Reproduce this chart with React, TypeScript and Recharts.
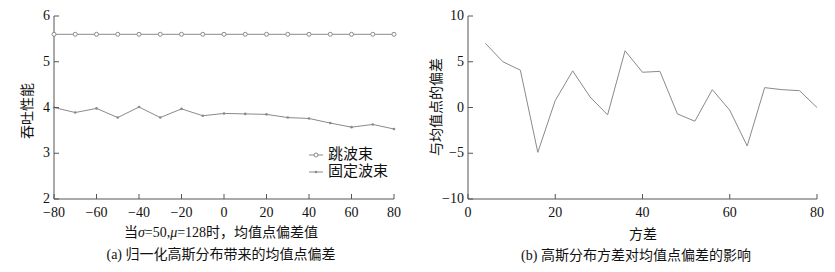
import React from 'react';
import { LineChart, Line, XAxis, YAxis } from 'recharts';

const offsetsA = [-80, -70, -60, -50, -40, -30, -20, -10, 0, 10, 20, 30, 40, 50, 60, 70, 80];
const hopBeam = [5.6, 5.6, 5.6, 5.6, 5.6, 5.6, 5.6, 5.6, 5.6, 5.6, 5.6, 5.6, 5.6, 5.6, 5.6, 5.6, 5.6];
const fixedBeam = [4.0, 3.89, 3.98, 3.78, 4.01, 3.78, 3.97, 3.82, 3.87, 3.86, 3.85, 3.78, 3.76, 3.66, 3.57, 3.63, 3.53];
const ticksAX = [-80, -60, -40, -20, 0, 20, 40, 60, 80];
const ticksAY = [2, 3, 4, 5, 6];
const seriesNames = ['跳波束', '固定波束'];

const variances = [4, 8, 12, 16, 20, 24, 28, 32, 36, 40, 44, 48, 52, 56, 60, 64, 68, 72, 76, 80];
const deviation = [7.0, 5.0, 4.08, -4.9, 0.77, 4.0, 1.14, -0.8, 6.2, 3.85, 3.95, -0.7, -1.5, 1.95, -0.3, -4.2, 2.17, 1.95, 1.84, 0];
const ticksBX = [0, 20, 40, 60, 80];
const ticksBY = [-10, -5, 0, 5, 10];

const dataA = offsetsA.map((x, i) => ({ x, hop: hopBeam[i], fixed: fixedBeam[i] }));
const dataB = variances.map((x, i) => ({ x, dev: deviation[i] }));

const FONT = "'Liberation Serif', 'Noto Sans CJK SC', serif";
const AXIS = '#555';
const LINE = '#8a8a8a';

const BottomTick = (props: any) => {
  const { x, y, payload } = props;
  return (
    <g>
      <line x1={x} x2={x} y1={y} y2={y - 5} stroke={AXIS} />
      <text x={x} y={y + 18} textAnchor="middle" fontSize={14} fontFamily={FONT} fill="#111">
        {String(payload.value).replace('-', '\u2212')}
      </text>
    </g>
  );
};
const TopTick = (props: any) => {
  const { x, y } = props;
  return <line x1={x} x2={x} y1={y} y2={y + 5} stroke={AXIS} />;
};
const LeftTick = (props: any) => {
  const { x, y, payload } = props;
  return (
    <g>
      <line x1={x} x2={x + 5} y1={y} y2={y} stroke={AXIS} />
      <text x={x - 4} y={y + 4} textAnchor="end" fontSize={14} fontFamily={FONT} fill="#111">
        {String(payload.value).replace('-', '\u2212')}
      </text>
    </g>
  );
};
const RightTick = (props: any) => {
  const { x, y } = props;
  return <line x1={x} x2={x - 5} y1={y} y2={y} stroke={AXIS} />;
};

const HopDot = (props: any) => {
  const { cx, cy } = props;
  return <circle cx={cx} cy={cy} r={2} fill="#fff" stroke={LINE} strokeWidth={1} />;
};
const FixedDot = (props: any) => {
  const { cx, cy } = props;
  return <circle cx={cx} cy={cy} r={1.3} fill={LINE} stroke="none" />;
};

const textStyle: React.CSSProperties = {
  position: 'absolute',
  fontFamily: FONT,
  color: '#111',
  whiteSpace: 'nowrap',
};

export default function App() {
  return (
    <div style={{ position: 'absolute', left: 0, top: 0, width: 835, height: 272, background: '#fff', overflow: 'hidden' }}>
      <div style={{ position: 'absolute', left: 0, top: 0 }}>
        <LineChart width={420} height={272} data={dataA} margin={{ top: 16, right: 26, bottom: 43, left: 24 }}>
          <XAxis dataKey="x" type="number" domain={[-80, 80]} ticks={ticksAX} tickSize={0} tickMargin={0}
            axisLine={{ stroke: AXIS }} tickLine={false} tick={<BottomTick />} height={30} interval={0} />
          <XAxis xAxisId="top" orientation="top" dataKey="x" type="number" domain={[-80, 80]} ticks={ticksAX}
            tickSize={0} tickMargin={0} axisLine={{ stroke: AXIS }} tickLine={false} tick={<TopTick />} height={0} interval={0} />
          <YAxis type="number" domain={[2, 6]} ticks={ticksAY} tickSize={0} tickMargin={0}
            axisLine={{ stroke: AXIS }} tickLine={false} tick={<LeftTick />} width={30} interval={0} />
          <YAxis yAxisId="right" orientation="right" type="number" domain={[2, 6]} ticks={ticksAY} tickSize={0} tickMargin={0}
            axisLine={{ stroke: AXIS }} tickLine={false} tick={<RightTick />} width={0} interval={0} />
          <Line dataKey="hop" name={seriesNames[0]} stroke={LINE} strokeWidth={1} dot={<HopDot />} activeDot={false} isAnimationActive={false} />
          <Line dataKey="fixed" name={seriesNames[1]} stroke={LINE} strokeWidth={1} dot={<FixedDot />} activeDot={false} isAnimationActive={false} />
        </LineChart>
      </div>
      <div style={{ position: 'absolute', left: 309, top: 146, fontFamily: FONT, fontSize: 15, color: '#111', lineHeight: '17px' }}>
        {seriesNames.map((name, i) => (
          <div key={name} style={{ display: 'flex', alignItems: 'center' }}>
            <svg width={16} height={10} style={{ marginRight: 3 }}>
              <line x1={0} x2={14} y1={5} y2={5} stroke={LINE} />
              {i === 0 ? (
                <circle cx={7} cy={5} r={2} fill="#fff" stroke={LINE} />
              ) : (
                <circle cx={7} cy={5} r={1.3} fill={LINE} />
              )}
            </svg>
            <span>{name}</span>
          </div>
        ))}
      </div>
      <div style={{ ...textStyle, left: 26, top: 111, fontSize: 14, transform: 'translate(-50%, -50%) rotate(-90deg)' }}>吞吐性能</div>
      <div style={{ ...textStyle, left: 221, top: 231, fontSize: 14, transform: 'translate(-50%, -50%)' }}>
        当<i>σ</i>=50,<i>μ</i>=128时，均值点偏差值
      </div>
      <div style={{ ...textStyle, left: 221, top: 253, fontSize: 14, transform: 'translate(-50%, -50%)' }}>
        (a) 归一化高斯分布带来的均值点偏差
      </div>

      <div style={{ position: 'absolute', left: 415, top: 0 }}>
        <LineChart width={420} height={272} data={dataB} margin={{ top: 16, right: 18, bottom: 43, left: 23 }}>
          <XAxis dataKey="x" type="number" domain={[0, 80]} ticks={ticksBX} tickSize={0} tickMargin={0}
            axisLine={{ stroke: AXIS }} tickLine={false} tick={<BottomTick />} height={30} interval={0} />
          <XAxis xAxisId="top" orientation="top" dataKey="x" type="number" domain={[0, 80]} ticks={ticksBX}
            tickSize={0} tickMargin={0} axisLine={{ stroke: AXIS }} tickLine={false} tick={<TopTick />} height={0} interval={0} />
          <YAxis type="number" domain={[-10, 10]} ticks={ticksBY} tickSize={0} tickMargin={0}
            axisLine={{ stroke: AXIS }} tickLine={false} tick={<LeftTick />} width={30} interval={0} />
          <YAxis yAxisId="right" orientation="right" type="number" domain={[-10, 10]} ticks={ticksBY} tickSize={0} tickMargin={0}
            axisLine={{ stroke: AXIS }} tickLine={false} tick={<RightTick />} width={0} interval={0} />
          <Line dataKey="dev" stroke={LINE} strokeWidth={1} dot={false} activeDot={false} isAnimationActive={false} />
        </LineChart>
      </div>
      <div style={{ ...textStyle, left: 435, top: 107, fontSize: 14, transform: 'translate(-50%, -50%) rotate(-90deg)' }}>与均值点的偏差</div>
      <div style={{ ...textStyle, left: 643, top: 233, fontSize: 14, transform: 'translate(-50%, -50%)' }}>方差</div>
      <div style={{ ...textStyle, left: 636, top: 254, fontSize: 14, transform: 'translate(-50%, -50%)' }}>
        (b) 高斯分布方差对均值点偏差的影响
      </div>
    </div>
  );
}
